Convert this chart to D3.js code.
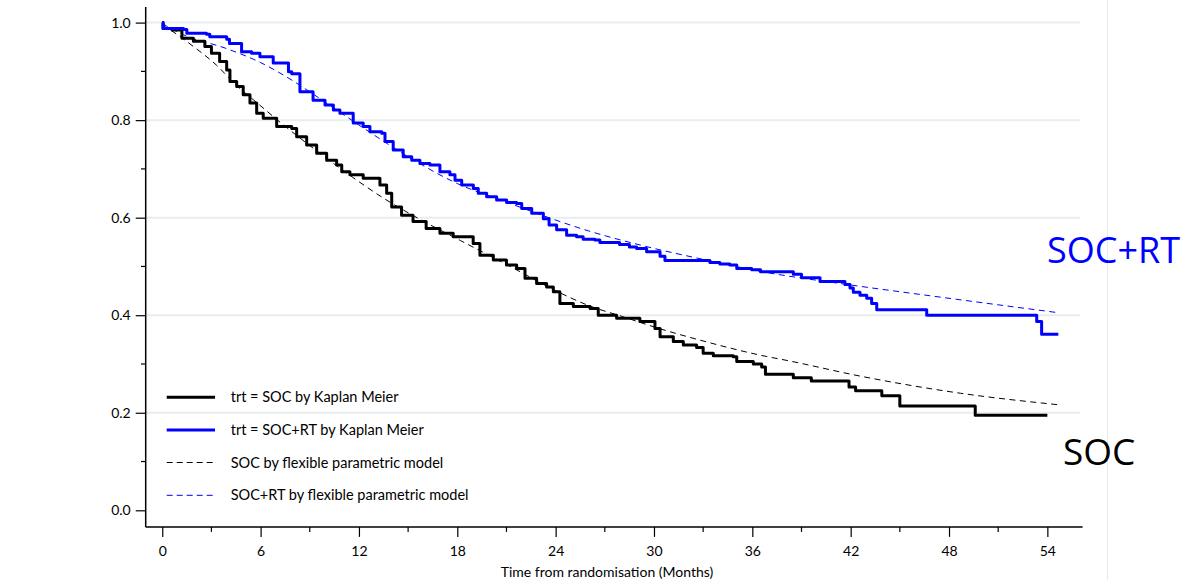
<!DOCTYPE html>
<html><head><meta charset="utf-8">
<script src="https://cdn.jsdelivr.net/npm/d3@7"></script>
<style>
body{margin:0;background:#fff}
svg{display:block}
text{font-family:Lato,"Open Sans",sans-serif}
</style>
</head><body>
<svg id="chart" width="1182" height="580"></svg>
<script>
// Kaplan-Meier step points [month, survival]
const socKM = [[0,1.0],[0.05,0.988],[0.6,0.985],[1.2,0.968],[1.9,0.962],[2.6,0.951],[3.0,0.937],[3.5,0.92],[3.93,0.903],[4.13,0.879],[4.54,0.869],[4.94,0.852],[5.35,0.835],[5.76,0.814],[6.16,0.804],[6.98,0.787],[7.9,0.783],[8.2,0.766],[8.81,0.749],[9.42,0.732],[10.03,0.718],[10.64,0.708],[10.95,0.694],[11.45,0.688],[12.26,0.681],[13.28,0.667],[13.69,0.65],[14.0,0.622],[14.6,0.605],[15.3,0.592],[16.1,0.578],[16.94,0.568],[17.75,0.561],[18.97,0.547],[19.38,0.523],[20.2,0.513],[21.0,0.503],[21.62,0.496],[22.13,0.476],[22.84,0.465],[23.45,0.458],[23.86,0.448],[24.26,0.424],[25.08,0.418],[26.1,0.414],[26.6,0.40],[27.72,0.394],[29.14,0.387],[30.06,0.373],[30.37,0.356],[31.18,0.346],[31.79,0.339],[32.6,0.334],[33.0,0.322],[33.62,0.317],[34.84,0.315],[35.05,0.305],[36.06,0.30],[36.57,0.294],[36.8,0.279],[38.5,0.272],[39.6,0.265],[41.9,0.253],[42.3,0.245],[43.9,0.235],[45.0,0.214],[49.6,0.195],[54.0,0.195]];
const rtKM = [[0,1.0],[0.05,0.988],[1.3,0.986],[1.5,0.978],[2.7,0.976],[2.9,0.971],[3.93,0.966],[4.1,0.957],[4.84,0.94],[5.45,0.937],[5.96,0.93],[6.77,0.917],[7.7,0.899],[7.9,0.895],[8.4,0.858],[9.2,0.841],[9.93,0.831],[10.44,0.821],[10.84,0.814],[11.65,0.794],[12.26,0.787],[12.67,0.776],[13.39,0.773],[13.59,0.756],[14.09,0.739],[14.7,0.725],[15.22,0.718],[15.72,0.711],[16.33,0.708],[16.94,0.694],[17.55,0.688],[17.86,0.677],[18.27,0.667],[18.98,0.66],[19.28,0.65],[19.79,0.643],[20.4,0.636],[21.01,0.631],[21.62,0.629],[21.93,0.619],[22.54,0.609],[23.25,0.598],[23.6,0.585],[24.06,0.575],[24.67,0.564],[25.28,0.561],[25.68,0.556],[26.4,0.554],[26.7,0.549],[27.9,0.545],[28.5,0.540],[28.94,0.537],[29.55,0.530],[30.37,0.521],[30.67,0.512],[33.41,0.508],[34.02,0.505],[34.63,0.503],[35.05,0.496],[35.96,0.493],[36.5,0.489],[38.5,0.484],[39.0,0.477],[40.13,0.469],[41.65,0.463],[41.96,0.456],[42.16,0.447],[42.57,0.441],[42.98,0.435],[43.28,0.424],[43.59,0.411],[46.64,0.40],[53.35,0.387],[53.65,0.361],[54.67,0.361]];
// Flexible parametric model curves [month, survival]
const socModel = [[0,0.995],[0.67,0.981],[1.9,0.951],[3.3,0.913],[4.5,0.872],[5.8,0.835],[7.4,0.79],[9.5,0.735],[11.65,0.682],[13.5,0.64],[15.7,0.597],[18.2,0.553],[21.4,0.497],[23.9,0.452],[26,0.42],[28.1,0.397],[30.2,0.374],[32.8,0.349],[36.5,0.318],[38.3,0.306],[42.6,0.275],[48.7,0.240],[54.8,0.216]];
const rtModel = [[0,0.998],[1.3,0.975],[3.9,0.947],[6,0.918],[8,0.88],[9,0.858],[12,0.79],[15,0.725],[18,0.67],[21,0.632],[23.25,0.604],[26,0.573],[29.15,0.544],[33.2,0.513],[36,0.493],[42,0.462],[46.6,0.441],[54.7,0.405]];

const xTicks = [0,6,12,18,24,30,36,42,48,54];
const xMinor = [3,9,15,21,27,33,39,45,51];
const yTicks = [0,0.2,0.4,0.6,0.8,1.0];
const yMinor = [0.1,0.3,0.5,0.7,0.9];
const gridVals = [0.2,0.4,0.6,0.8,1.0];
const xTitle = "Time from randomisation (Months)";
const legendLabels = ["trt = SOC by Kaplan Meier","trt = SOC+RT by Kaplan Meier","SOC by flexible parametric model","SOC+RT by flexible parametric model"];
const sideLabels = ["SOC+RT","SOC"];

const svg = d3.select("#chart");
const x = d3.scaleLinear().domain([-1.01,56.15]).range([145.7,1082.6]);
const y = d3.scaleLinear().domain([0,1]).range([510.3,22.6]);
const gridCol = "#e6eef0";

// right vertical line
svg.append("line").attr("x1",1107.5).attr("x2",1107.5).attr("y1",0).attr("y2",580)
  .attr("stroke","#e3ecee").attr("stroke-width",1);

// gridlines
svg.append("g").selectAll("line").data(gridVals).join("line")
  .attr("x1",x(-1.01)).attr("x2",1080).attr("y1",d=>y(d)).attr("y2",d=>y(d))
  .attr("stroke",gridCol).attr("stroke-width",2);

// axes
const yAxis = d3.axisLeft(y).tickValues(yTicks).tickFormat(d3.format(".1f")).tickSize(10).tickPadding(5);
const gy = svg.append("g").attr("transform","translate(145.7,0)").call(yAxis);
gy.select(".domain").remove();
gy.selectAll("text").attr("font-size",14).attr("fill","#000").style("font-family","Lato");
gy.selectAll("line").attr("stroke","#000").attr("stroke-width",1.2);
svg.append("g").selectAll("line").data(yMinor).join("line")
  .attr("x1",141).attr("x2",145.7).attr("y1",d=>y(d)).attr("y2",d=>y(d)).attr("stroke","#000").attr("stroke-width",1.2);
svg.append("line").attr("x1",145.7).attr("x2",145.7).attr("y1",y(1.032)).attr("y2",y(-0.034))
  .attr("stroke","#000").attr("stroke-width",1.5);

const xAxis = d3.axisBottom(x).tickValues(xTicks).tickFormat(d3.format("d")).tickSize(10).tickPadding(9);
const gx = svg.append("g").attr("transform",`translate(0,${y(-0.034)})`).call(xAxis);
gx.select(".domain").remove();
gx.selectAll("text").attr("font-size",14).attr("fill","#000").style("font-family","Lato");
gx.selectAll("line").attr("stroke","#000").attr("stroke-width",1.2);
svg.append("g").selectAll("line").data(xMinor).join("line")
  .attr("x1",d=>x(d)).attr("x2",d=>x(d)).attr("y1",y(-0.034)).attr("y2",y(-0.034)+5).attr("stroke","#000").attr("stroke-width",1.2);
svg.append("line").attr("x1",145.7).attr("x2",x(56.15)).attr("y1",y(-0.034)).attr("y2",y(-0.034))
  .attr("stroke","#000").attr("stroke-width",1.5);

svg.append("text").attr("x",607).attr("y",577).attr("text-anchor","middle")
  .attr("font-size",14).text(xTitle);

// curves
const stepLine = d3.line().x(d=>x(d[0])).y(d=>y(d[1])).curve(d3.curveStepAfter);
const smoothLine = d3.line().x(d=>x(d[0])).y(d=>y(d[1])).curve(d3.curveMonotoneX);

svg.append("path").datum(socModel).attr("d",smoothLine).attr("fill","none")
  .attr("stroke","#000").attr("stroke-width",1).attr("stroke-dasharray","6,4.5");
svg.append("path").datum(rtModel).attr("d",smoothLine).attr("fill","none")
  .attr("stroke","#0000ff").attr("stroke-width",1).attr("stroke-dasharray","6,4.5");
svg.append("path").datum(socKM).attr("d",stepLine).attr("fill","none")
  .attr("stroke","#000").attr("stroke-width",3).attr("stroke-linejoin","round");
svg.append("path").datum(rtKM).attr("d",stepLine).attr("fill","none")
  .attr("stroke","#0000ff").attr("stroke-width",3).attr("stroke-linejoin","round");

// legend
const legY = [397.3,430,462.5,495.3];
const legStyle = [
  {c:"#000",w:3,dash:null},{c:"#0000ff",w:3,dash:null},
  {c:"#000",w:1,dash:"6,4"},{c:"#0000ff",w:1,dash:"6,4"}];
const lg = svg.append("g");
legendLabels.forEach((t,i)=>{
  lg.append("line").attr("x1",166.7).attr("x2",215).attr("y1",legY[i]).attr("y2",legY[i])
    .attr("stroke",legStyle[i].c).attr("stroke-width",legStyle[i].w)
    .attr("stroke-dasharray",legStyle[i].dash);
  lg.append("text").attr("x",230.7).attr("y",legY[i]+5).attr("font-size",14.5).text(t);
});

// side labels
svg.append("text").attr("x",1047).attr("y",263).attr("font-size",36)
  .style("font-family","'Open Sans'").attr("fill","#0000ff").text(sideLabels[0]);
svg.append("text").attr("x",1063).attr("y",465).attr("font-size",37)
  .style("font-family","'Open Sans'").attr("fill","#000").text(sideLabels[1]);
</script>
</body></html>
